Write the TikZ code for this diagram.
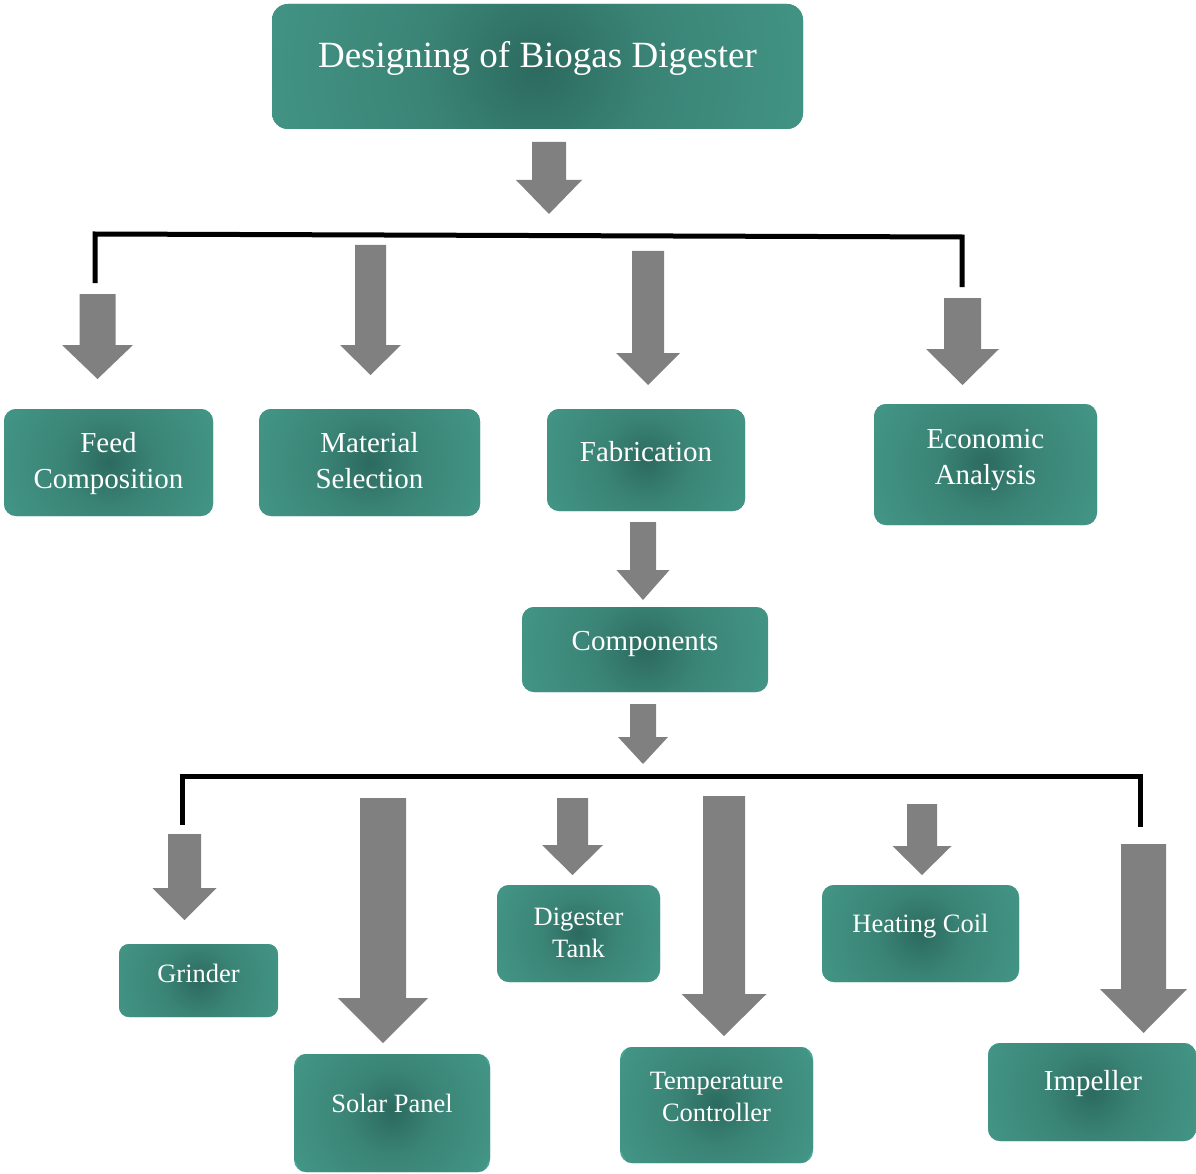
\documentclass[tikz,border=0pt]{standalone}
\usepackage{fontspec}
\setmainfont{Liberation Serif}
\definecolor{tdark}{RGB}{44,106,95}
\definecolor{tmid}{RGB}{58,132,118}
\definecolor{tlight}{RGB}{76,168,150}
\definecolor{agray}{RGB}{128,128,128}
\pgfdeclareradialshading{boxshade}{\pgfpoint{0bp}{0bp}}{color(0bp)=(tdark); color(10bp)=(tmid); color(42bp)=(tlight); color(100bp)=(tlight)}
\newcommand\blkarrow[6]{\fill[agray] (#1-#2,#3) -- (#1+#2,#3) -- (#1+#2,#4) -- (#1+#5,#4) -- (#1,#6) -- (#1-#5,#4) -- (#1-#2,#4) -- cycle;}
\begin{document}
\begin{tikzpicture}[x=1pt,y=-1pt,
  box/.style={rounded corners=12pt, fill=tlight, inner sep=0pt, outer sep=0pt,
    path picture={\shade[shading=boxshade] (path picture bounding box.center) circle (#1pt);}},
  lbl/.style={text=white, inner sep=0pt, align=center, anchor=base},
  big/.style={font=\fontsize{29}{36}\selectfont},
  small/.style={font=\fontsize{26.5}{31.5}\selectfont},
  bracket/.style={line width=5pt, black}]
\useasboundingbox (0,0) rectangle (1196,1174);
% boxes
\node[box=290, rounded corners=16pt, minimum width=531pt, minimum height=125pt] (title) at (537.5,66.5) {};
\node[box=115, minimum width=209pt, minimum height=107pt] (feed) at (108.5,462.5) {};
\node[box=120, minimum width=221pt, minimum height=107pt] (mat) at (369.5,462.5) {};
\node[box=110, minimum width=198pt, minimum height=102pt] (fab) at (646,460) {};
\node[box=122, minimum width=223pt, minimum height=121pt] (eco) at (985.5,464.5) {};
\node[box=130, minimum width=246pt, minimum height=85pt] (comp) at (645,649.5) {};
\node[box=88, rounded corners=10pt, minimum width=159pt, minimum height=73pt] (grind) at (198.5,980.5) {};
\node[box=108, minimum width=196pt, minimum height=118pt] (solar) at (392,1113) {};
\node[box=90, minimum width=163pt, minimum height=97pt] (dig) at (578.5,933.5) {};
\node[box=106, minimum width=193pt, minimum height=116pt] (temp) at (716.5,1105) {};
\node[box=108, minimum width=197pt, minimum height=97pt] (heat) at (920.5,933.5) {};
\node[box=114, minimum width=208pt, minimum height=98pt] (imp) at (1092,1092) {};
% labels
\node[lbl, font=\fontsize{37}{44}\selectfont] (titlet) at (537.5,68) {Designing of Biogas Digester};
\node[lbl, big] (feedt) at (108.5,488) {Feed\\Composition};
\node[lbl, big] (matt) at (369.5,488) {Material\\Selection};
\node[lbl, big] (fabt) at (646,461) {Fabrication};
\node[lbl, big] (ecot) at (985.5,484) {Economic\\Analysis};
\node[lbl, big] (compt) at (645,650) {Components};
\node[lbl, small] (grindt) at (198.5,982) {Grinder};
\node[lbl, small] (solart) at (392,1112) {Solar Panel};
\node[lbl, small] (digt) at (578.5,957) {Digester\\Tank};
\node[lbl, small] (tempt) at (716.5,1121) {Temperature\\Controller};
\node[lbl, small] (heatt) at (920.5,932) {Heating Coil};
\node[lbl, big] (impt) at (1093,1090) {Impeller};
% block arrows
\blkarrow{549}{17}{142}{180}{33}{214}
\blkarrow{97.5}{18}{294}{345}{35.5}{379}
\blkarrow{370.5}{15.5}{245}{345}{30.5}{375}
\blkarrow{648}{16}{251}{353}{32}{385}
\blkarrow{962.5}{18.5}{298}{349}{36.5}{385}
\blkarrow{643}{13}{522}{570}{26.5}{600}
\blkarrow{643}{13}{704}{737}{25}{764}
\blkarrow{184.5}{16.5}{834}{888}{32}{920}
\blkarrow{383}{23}{798}{998}{45}{1043}
\blkarrow{572.5}{15.5}{798}{845}{30.5}{875}
\blkarrow{724}{21}{796}{994}{42.5}{1036}
\blkarrow{922}{15}{804}{846}{29.5}{875}
\blkarrow{1143.5}{22.5}{844}{989}{43.5}{1033}
% brackets
\coordinate (b1a) at (95,283);
\coordinate (b1b) at (962,287);
\draw[bracket] (b1a) -- (95,234) -- (962,237) -- (b1b);
\coordinate (b2a) at (182,825);
\coordinate (b2b) at (1140,827);
\draw[bracket] (b2a) -- (182,776) -- (1140,776) -- (b2b);
\end{tikzpicture}
\end{document}
